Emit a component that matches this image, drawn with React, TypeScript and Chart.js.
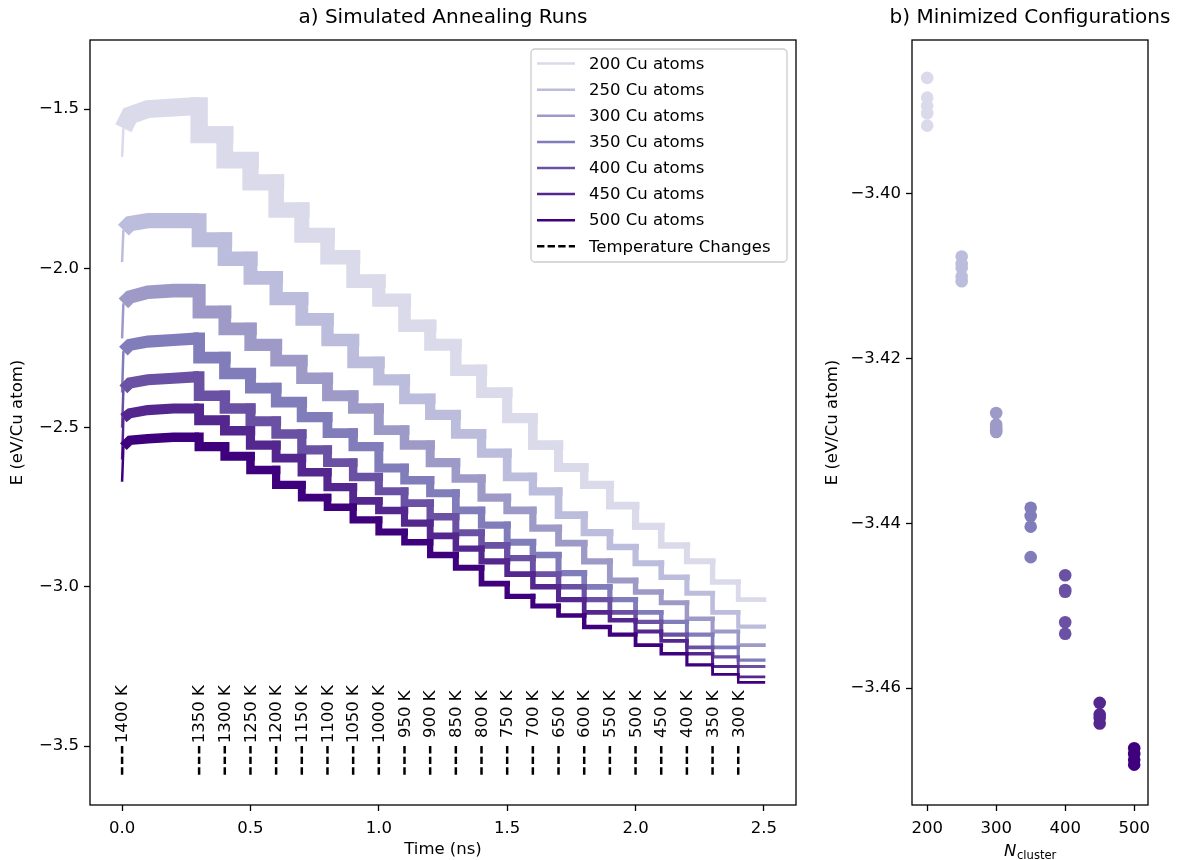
import React, { useEffect, useRef } from 'react';
import { Chart, registerables } from 'chart.js';

Chart.register(...registerables);

// ---------- data ----------
const clusterSizes = [200, 250, 300, 350, 400, 450, 500];
const seriesColors = ['#dadaeb', '#bcbddc', '#9e9ac8', '#807dba', '#6a51a3', '#54278f', '#3f007d'];

const warmupTimes = [0, 0.005, 0.03, 0.1, 0.2, 0.3];
const changeTimes = [0.3, 0.4, 0.5, 0.6, 0.7, 0.8, 0.9, 1.0, 1.1, 1.2, 1.3, 1.4, 1.5, 1.6, 1.7, 1.8, 1.9, 2.0, 2.1, 2.2, 2.3, 2.4];
const endTime = 2.5;
const startTemp = 1400;
const stepTemps = [1350, 1300, 1250, 1200, 1150, 1100, 1050, 1000, 950, 900, 850, 800, 750, 700, 650, 600, 550, 500, 450, 400, 350, 300];

const e200Warmup = [-1.65, -1.56, -1.52, -1.5, -1.495, -1.49];
const e250Warmup = [-1.98, -1.88, -1.86, -1.85, -1.85, -1.85];
const e300Warmup = [-2.22, -2.11, -2.09, -2.075, -2.07, -2.07];
const e350Warmup = [-2.39, -2.26, -2.24, -2.23, -2.225, -2.22];
const e400Warmup = [-2.5, -2.38, -2.36, -2.35, -2.345, -2.34];
const e450Warmup = [-2.6, -2.47, -2.455, -2.445, -2.44, -2.44];
const e500Warmup = [-2.67, -2.56, -2.54, -2.535, -2.53, -2.53];

const e200Steps = [-1.58, -1.66, -1.73, -1.817, -1.896, -1.965, -2.04, -2.1, -2.18, -2.24, -2.32, -2.39, -2.47, -2.555, -2.625, -2.68, -2.745, -2.81, -2.87, -2.92, -2.985, -3.04];
const e250Steps = [-1.91, -1.97, -2.03, -2.095, -2.16, -2.225, -2.295, -2.35, -2.41, -2.46, -2.52, -2.58, -2.655, -2.7, -2.775, -2.83, -2.875, -2.926, -2.97, -3.02, -3.08, -3.125];
const e300Steps = [-2.137, -2.19, -2.24, -2.29, -2.345, -2.4, -2.44, -2.508, -2.555, -2.61, -2.66, -2.72, -2.76, -2.816, -2.863, -2.92, -2.98, -3.016, -3.05, -3.1, -3.14, -3.183];
const e350Steps = [-2.28, -2.33, -2.376, -2.42, -2.467, -2.517, -2.56, -2.627, -2.665, -2.706, -2.76, -2.806, -2.86, -2.9, -2.957, -3.0, -3.04, -3.08, -3.11, -3.15, -3.19, -3.23];
const e400Steps = [-2.4, -2.44, -2.48, -2.52, -2.57, -2.61, -2.655, -2.7, -2.737, -2.78, -2.83, -2.87, -2.91, -2.96, -3.0, -3.04, -3.08, -3.11, -3.15, -3.19, -3.22, -3.25];
const e450Steps = [-2.477, -2.51, -2.555, -2.596, -2.64, -2.687, -2.73, -2.76, -2.8, -2.84, -2.88, -2.92, -2.96, -3.0, -3.04, -3.08, -3.105, -3.14, -3.17, -3.21, -3.25, -3.283];
const e500Steps = [-2.56, -2.59, -2.633, -2.68, -2.72, -2.75, -2.79, -2.828, -2.86, -2.9, -2.94, -2.99, -3.03, -3.06, -3.09, -3.126, -3.15, -3.183, -3.21, -3.245, -3.275, -3.3];

const min200 = [-3.3859, -3.3883, -3.3893, -3.3902, -3.3917];
const min250 = [-3.4076, -3.4085, -3.409, -3.41, -3.4106];
const min300 = [-3.4266, -3.428, -3.4284, -3.4287, -3.4289];
const min350 = [-3.4381, -3.4391, -3.4404, -3.4441];
const min400 = [-3.4463, -3.4481, -3.4483, -3.452, -3.4534];
const min450 = [-3.4618, -3.4632, -3.4636, -3.4643];
const min500 = [-3.4673, -3.468, -3.4687, -3.4693];

const xTicksA = [0, 0.5, 1.0, 1.5, 2.0, 2.5];
const yTicksA = [-3.5, -3.0, -2.5, -2.0, -1.5];
const xTicksB = [200, 300, 400, 500];
const yTicksB = [-3.46, -3.44, -3.42, -3.40];

const tempLineTop = -3.5;
const tempLineBottom = -3.6;
const tempLabelY = -3.4;

const warmups = [e200Warmup, e250Warmup, e300Warmup, e350Warmup, e400Warmup, e450Warmup, e500Warmup];
const steps = [e200Steps, e250Steps, e300Steps, e350Steps, e400Steps, e450Steps, e500Steps];
const minima = [min200, min250, min300, min350, min400, min450, min500];

// ---------- helpers ----------
const FONT = 'DejaVu Sans';
const FS = 16.5;
const fmtMinus = (s: string) => s.replace('-', '\u2212');

function buildTrace(warm: number[], st: number[]) {
  const pts: { x: number; y: number }[] = warmupTimes.map((t, i) => ({ x: t, y: warm[i] }));
  st.forEach((v, i) => {
    const t0 = changeTimes[i];
    const t1 = i + 1 < changeTimes.length ? changeTimes[i + 1] : endTime;
    pts.push({ x: t0, y: v }, { x: t1, y: v });
  });
  return pts;
}

function tempAt(t: number) {
  let T = startTemp;
  changeTimes.forEach((c, i) => {
    if (t >= c - 1e-9) T = stepTemps[i];
  });
  return T;
}

const gridOpts = {
  display: true,
  drawOnChartArea: false,
  drawTicks: true,
  tickLength: 6,
  tickWidth: 1.3,
  tickColor: '#000',
};

const panelAPlugin = {
  id: 'panelA',
  afterDatasetsDraw(chart: any) {
    const { ctx, scales } = chart;
    const xs = scales.x;
    const ys = scales.y;
    const times = [0, ...changeTimes];
    const labels = [startTemp, ...stepTemps].map((T) => `${T} K`);
    ctx.save();
    ctx.strokeStyle = '#000';
    ctx.lineWidth = 2.5;
    ctx.setLineDash([7.4, 3.2]);
    const yTop = ys.getPixelForValue(tempLineTop);
    const yBot = ys.getPixelForValue(tempLineBottom);
    times.forEach((t) => {
      const x = xs.getPixelForValue(t);
      ctx.beginPath();
      ctx.moveTo(x, yTop);
      ctx.lineTo(x, yBot);
      ctx.stroke();
    });
    ctx.setLineDash([]);
    ctx.fillStyle = '#000';
    ctx.font = `${FS}px "${FONT}"`;
    ctx.textAlign = 'center';
    ctx.textBaseline = 'middle';
    const yl = ys.getPixelForValue(tempLabelY);
    times.forEach((t, i) => {
      const x = xs.getPixelForValue(t);
      ctx.save();
      ctx.translate(x + 1, yl);
      ctx.rotate(-Math.PI / 2);
      ctx.fillText(labels[i], 0, 0);
      ctx.restore();
    });
    ctx.restore();
  },
  afterDraw(chart: any) {
    const { ctx, chartArea } = chart;
    ctx.save();
    ctx.strokeStyle = '#000';
    ctx.lineWidth = 1.3;
    ctx.strokeRect(chartArea.left, chartArea.top, chartArea.right - chartArea.left, chartArea.bottom - chartArea.top);
    ctx.fillStyle = '#000';
    ctx.font = `20px "${FONT}"`;
    ctx.textAlign = 'center';
    ctx.textBaseline = 'middle';
    ctx.fillText('a) Simulated Annealing Runs', (chartArea.left + chartArea.right) / 2, 18);
    // legend
    const w = 256;
    const h = 213;
    const x0 = chartArea.right - 9 - w;
    const y0 = chartArea.top + 9;
    ctx.beginPath();
    const r = 4;
    ctx.moveTo(x0 + r, y0);
    ctx.arcTo(x0 + w, y0, x0 + w, y0 + h, r);
    ctx.arcTo(x0 + w, y0 + h, x0, y0 + h, r);
    ctx.arcTo(x0, y0 + h, x0, y0, r);
    ctx.arcTo(x0, y0, x0 + w, y0, r);
    ctx.closePath();
    ctx.fillStyle = 'rgba(255,255,255,0.8)';
    ctx.fill();
    ctx.strokeStyle = '#cccccc';
    ctx.lineWidth = 1.3;
    ctx.stroke();
    ctx.font = `${FS}px "${FONT}"`;
    ctx.textAlign = 'left';
    ctx.textBaseline = 'middle';
    const entries = clusterSizes.map((n, i) => ({ label: `${n} Cu atoms`, color: seriesColors[i], dash: false }));
    entries.push({ label: 'Temperature Changes', color: '#000', dash: true });
    entries.forEach((e, i) => {
      const yy = y0 + 14.6 + i * 26.1;
      ctx.beginPath();
      ctx.strokeStyle = e.color;
      ctx.lineWidth = 2.5;
      ctx.setLineDash(e.dash ? [7.4, 3.2] : []);
      ctx.moveTo(x0 + 6, yy);
      ctx.lineTo(x0 + 44, yy);
      ctx.stroke();
      ctx.setLineDash([]);
      ctx.fillStyle = '#000';
      ctx.fillText(e.label, x0 + 58, yy + 1);
    });
    ctx.restore();
  },
};

const panelBPlugin = {
  id: 'panelB',
  afterDraw(chart: any) {
    const { ctx, chartArea } = chart;
    ctx.save();
    ctx.strokeStyle = '#000';
    ctx.lineWidth = 1.3;
    ctx.strokeRect(chartArea.left, chartArea.top, chartArea.right - chartArea.left, chartArea.bottom - chartArea.top);
    const cx = (chartArea.left + chartArea.right) / 2;
    ctx.fillStyle = '#000';
    ctx.font = `20px "${FONT}"`;
    ctx.textAlign = 'center';
    ctx.textBaseline = 'middle';
    ctx.fillText('b) Minimized Configurations', cx, 18);
    ctx.textAlign = 'left';
    ctx.textBaseline = 'alphabetic';
    ctx.font = `italic ${FS}px "${FONT}"`;
    const wN = ctx.measureText('N').width;
    ctx.font = `11.6px "${FONT}"`;
    const wS = ctx.measureText('cluster').width;
    const sx = cx - (wN + wS) / 2;
    ctx.font = `italic ${FS}px "${FONT}"`;
    ctx.fillText('N', sx, 855.5);
    ctx.font = `11.6px "${FONT}"`;
    ctx.fillText('cluster', sx + wN + 0.5, 859);
    ctx.restore();
  },
};

export default function App() {
  const refA = useRef<HTMLCanvasElement>(null);
  const refB = useRef<HTMLCanvasElement>(null);

  useEffect(() => {
    Chart.defaults.color = '#000';
    Chart.defaults.font.family = FONT;
    Chart.defaults.font.size = FS;

    const tickFont = { family: FONT, size: FS };

    const datasetsA = clusterSizes.map((n, i) => ({
      label: `${n} Cu atoms`,
      data: buildTrace(warmups[i], steps[i]),
      borderColor: seriesColors[i],
      backgroundColor: seriesColors[i],
      borderWidth: 6,
      borderCapStyle: 'square' as const,
      borderJoinStyle: 'miter' as const,
      pointRadius: 0,
      tension: 0,
      fill: false,
      order: clusterSizes.length - 1 - i,
      segment: {
        borderWidth: (c: any) => {
          if (c.p0.parsed.x < 0.004) return 2.5;
          const T = tempAt(c.p0.parsed.x);
          return (1.2 + 0.012 * T) * Math.pow(200 / n, 0.7);
        },
        borderCapStyle: (c: any) => (c.p0.parsed.x < 0.29 ? 'butt' : 'square'),
      },
    }));

    const chartA = new Chart(refA.current as HTMLCanvasElement, {
      type: 'line',
      data: { datasets: datasetsA as any },
      options: {
        animation: false,
        responsive: false,
        maintainAspectRatio: false,
        layout: { padding: { left: 0, top: 40, right: 14, bottom: 0 } },
        plugins: { legend: { display: false }, tooltip: { enabled: false }, title: { display: false } },
        scales: {
          x: {
            type: 'linear',
            min: -0.125,
            max: 2.625,
            afterFit: (s: any) => { s.height = 55; },
            afterBuildTicks: (s: any) => { s.ticks = xTicksA.map((v) => ({ value: v })); },
            ticks: { font: tickFont, color: '#000', padding: 8, autoSkip: false, maxRotation: 0, callback: (v: any) => Number(v).toFixed(1) },
            grid: gridOpts,
            border: { display: false },
            title: { display: true, text: 'Time (ns)', font: tickFont, color: '#000', padding: 0 },
          },
          y: {
            type: 'linear',
            min: -3.685,
            max: -1.283,
            afterFit: (s: any) => { s.width = 90; },
            afterBuildTicks: (s: any) => { s.ticks = yTicksA.map((v) => ({ value: v })); },
            ticks: { font: tickFont, color: '#000', padding: 5, autoSkip: false, callback: (v: any) => fmtMinus(Number(v).toFixed(1)) },
            grid: gridOpts,
            border: { display: false },
            title: { display: true, text: 'E (eV/Cu atom)', font: tickFont, color: '#000', padding: { top: 8, bottom: 0 } },
          },
        },
      } as any,
      plugins: [panelAPlugin],
    });

    const datasetsB = clusterSizes.map((n, i) => ({
      label: `${n}`,
      data: minima[i].map((v) => ({ x: n, y: v })),
      backgroundColor: seriesColors[i],
      borderColor: seriesColors[i],
      borderWidth: 0,
      pointRadius: 6.3,
      showLine: false,
    }));

    const chartB = new Chart(refB.current as HTMLCanvasElement, {
      type: 'scatter',
      data: { datasets: datasetsB as any },
      options: {
        animation: false,
        responsive: false,
        maintainAspectRatio: false,
        layout: { padding: { left: 0, top: 40, right: 31, bottom: 0 } },
        plugins: { legend: { display: false }, tooltip: { enabled: false }, title: { display: false } },
        scales: {
          x: {
            type: 'linear',
            min: 178,
            max: 520,
            afterFit: (s: any) => { s.height = 55; },
            afterBuildTicks: (s: any) => { s.ticks = xTicksB.map((v) => ({ value: v })); },
            ticks: { font: tickFont, color: '#000', padding: 8, autoSkip: false, maxRotation: 0, callback: (v: any) => String(v) },
            grid: gridOpts,
            border: { display: false },
            title: { display: false },
          },
          y: {
            type: 'linear',
            min: -3.4742,
            max: -3.3813,
            afterFit: (s: any) => { s.width = 102; },
            afterBuildTicks: (s: any) => { s.ticks = yTicksB.map((v) => ({ value: v })); },
            ticks: { font: tickFont, color: '#000', padding: 5, autoSkip: false, callback: (v: any) => fmtMinus(Number(v).toFixed(2)) },
            grid: gridOpts,
            border: { display: false },
            title: { display: true, text: 'E (eV/Cu atom)', font: tickFont, color: '#000', padding: { top: 13, bottom: 0 } },
          },
        },
      } as any,
      plugins: [panelBPlugin],
    });

    return () => {
      chartA.destroy();
      chartB.destroy();
    };
  }, []);

  return (
    <div style={{ position: 'absolute', left: 0, top: 0, width: 1179, height: 860, background: '#fff' }}>
      <canvas ref={refA} width={810} height={860} style={{ position: 'absolute', left: 0, top: 0, width: 810, height: 860 }} />
      <canvas ref={refB} width={369} height={860} style={{ position: 'absolute', left: 810, top: 0, width: 369, height: 860 }} />
    </div>
  );
}
